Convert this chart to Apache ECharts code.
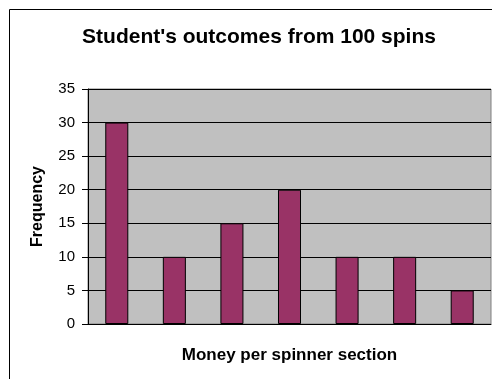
<!DOCTYPE html>
<html>
<head>
<meta charset="utf-8">
<script src="https://cdn.jsdelivr.net/npm/echarts@6/dist/echarts.min.js"></script>
<style>
html,body{margin:0;padding:0;background:#fff;}
#chart{width:492px;height:379px;}
</style>
</head>
<body>
<div id="chart"></div>
<script>
const categories = ['Section 1','Section 2','Section 3','Section 4','Section 5','Section 6','Section 7'];
const frequencies = [30, 10, 15, 20, 10, 10, 5];
const yTicks = {min: 0, max: 35, interval: 5};

const chart = echarts.init(document.getElementById('chart'), null, {renderer: 'canvas'});
chart.setOption({
  animation: false,
  backgroundColor: '#ffffff',
  title: {
    text: "Student's outcomes from 100 spins",
    left: 254,
    top: 22,
    textAlign: 'center',
    textStyle: {fontFamily: 'Liberation Sans, Arial', fontWeight: 'bold', fontSize: 21, color: '#000'}
  },
  graphic: [{
    type: 'rect',
    shape: {x: 9.5, y: 9.5, width: 600, height: 600},
    style: {fill: 'none', stroke: '#000', lineWidth: 1},
    silent: true
  }],
  grid: {
    left: 88, right: 1, top: 89, bottom: 55,
    show: true, backgroundColor: '#C0C0C0', borderColor: '#808080', borderWidth: 1
  },
  xAxis: {
    type: 'category',
    data: categories,
    name: 'Money per spinner section',
    nameLocation: 'middle',
    nameGap: 23,
    nameTextStyle: {fontFamily: 'Liberation Sans, Arial', fontWeight: 'bold', fontSize: 17, color: '#000'},
    axisLine: {show: true, lineStyle: {color: '#000', width: 1}},
    axisTick: {show: false},
    axisLabel: {show: false},
    splitLine: {show: false}
  },
  yAxis: {
    type: 'value',
    min: yTicks.min, max: yTicks.max, interval: yTicks.interval,
    name: 'Frequency',
    nameLocation: 'middle',
    nameGap: 42,
    nameRotate: 90,
    nameTextStyle: {fontFamily: 'Liberation Sans, Arial', fontWeight: 'bold', fontSize: 16, color: '#000'},
    axisLine: {show: true, lineStyle: {color: '#000', width: 1}},
    axisTick: {show: true, inside: false, length: 6, lineStyle: {color: '#000'}},
    axisLabel: {margin: 13, fontFamily: 'Liberation Sans, Arial', fontSize: 15, color: '#000'},
    splitLine: {show: true, lineStyle: {color: '#000', width: 1}}
  },
  series: [{
    type: 'bar',
    data: frequencies,
    barWidth: '40%',
    itemStyle: {color: '#993366', borderColor: '#000', borderWidth: 1}
  }]
});
</script>
</body>
</html>
